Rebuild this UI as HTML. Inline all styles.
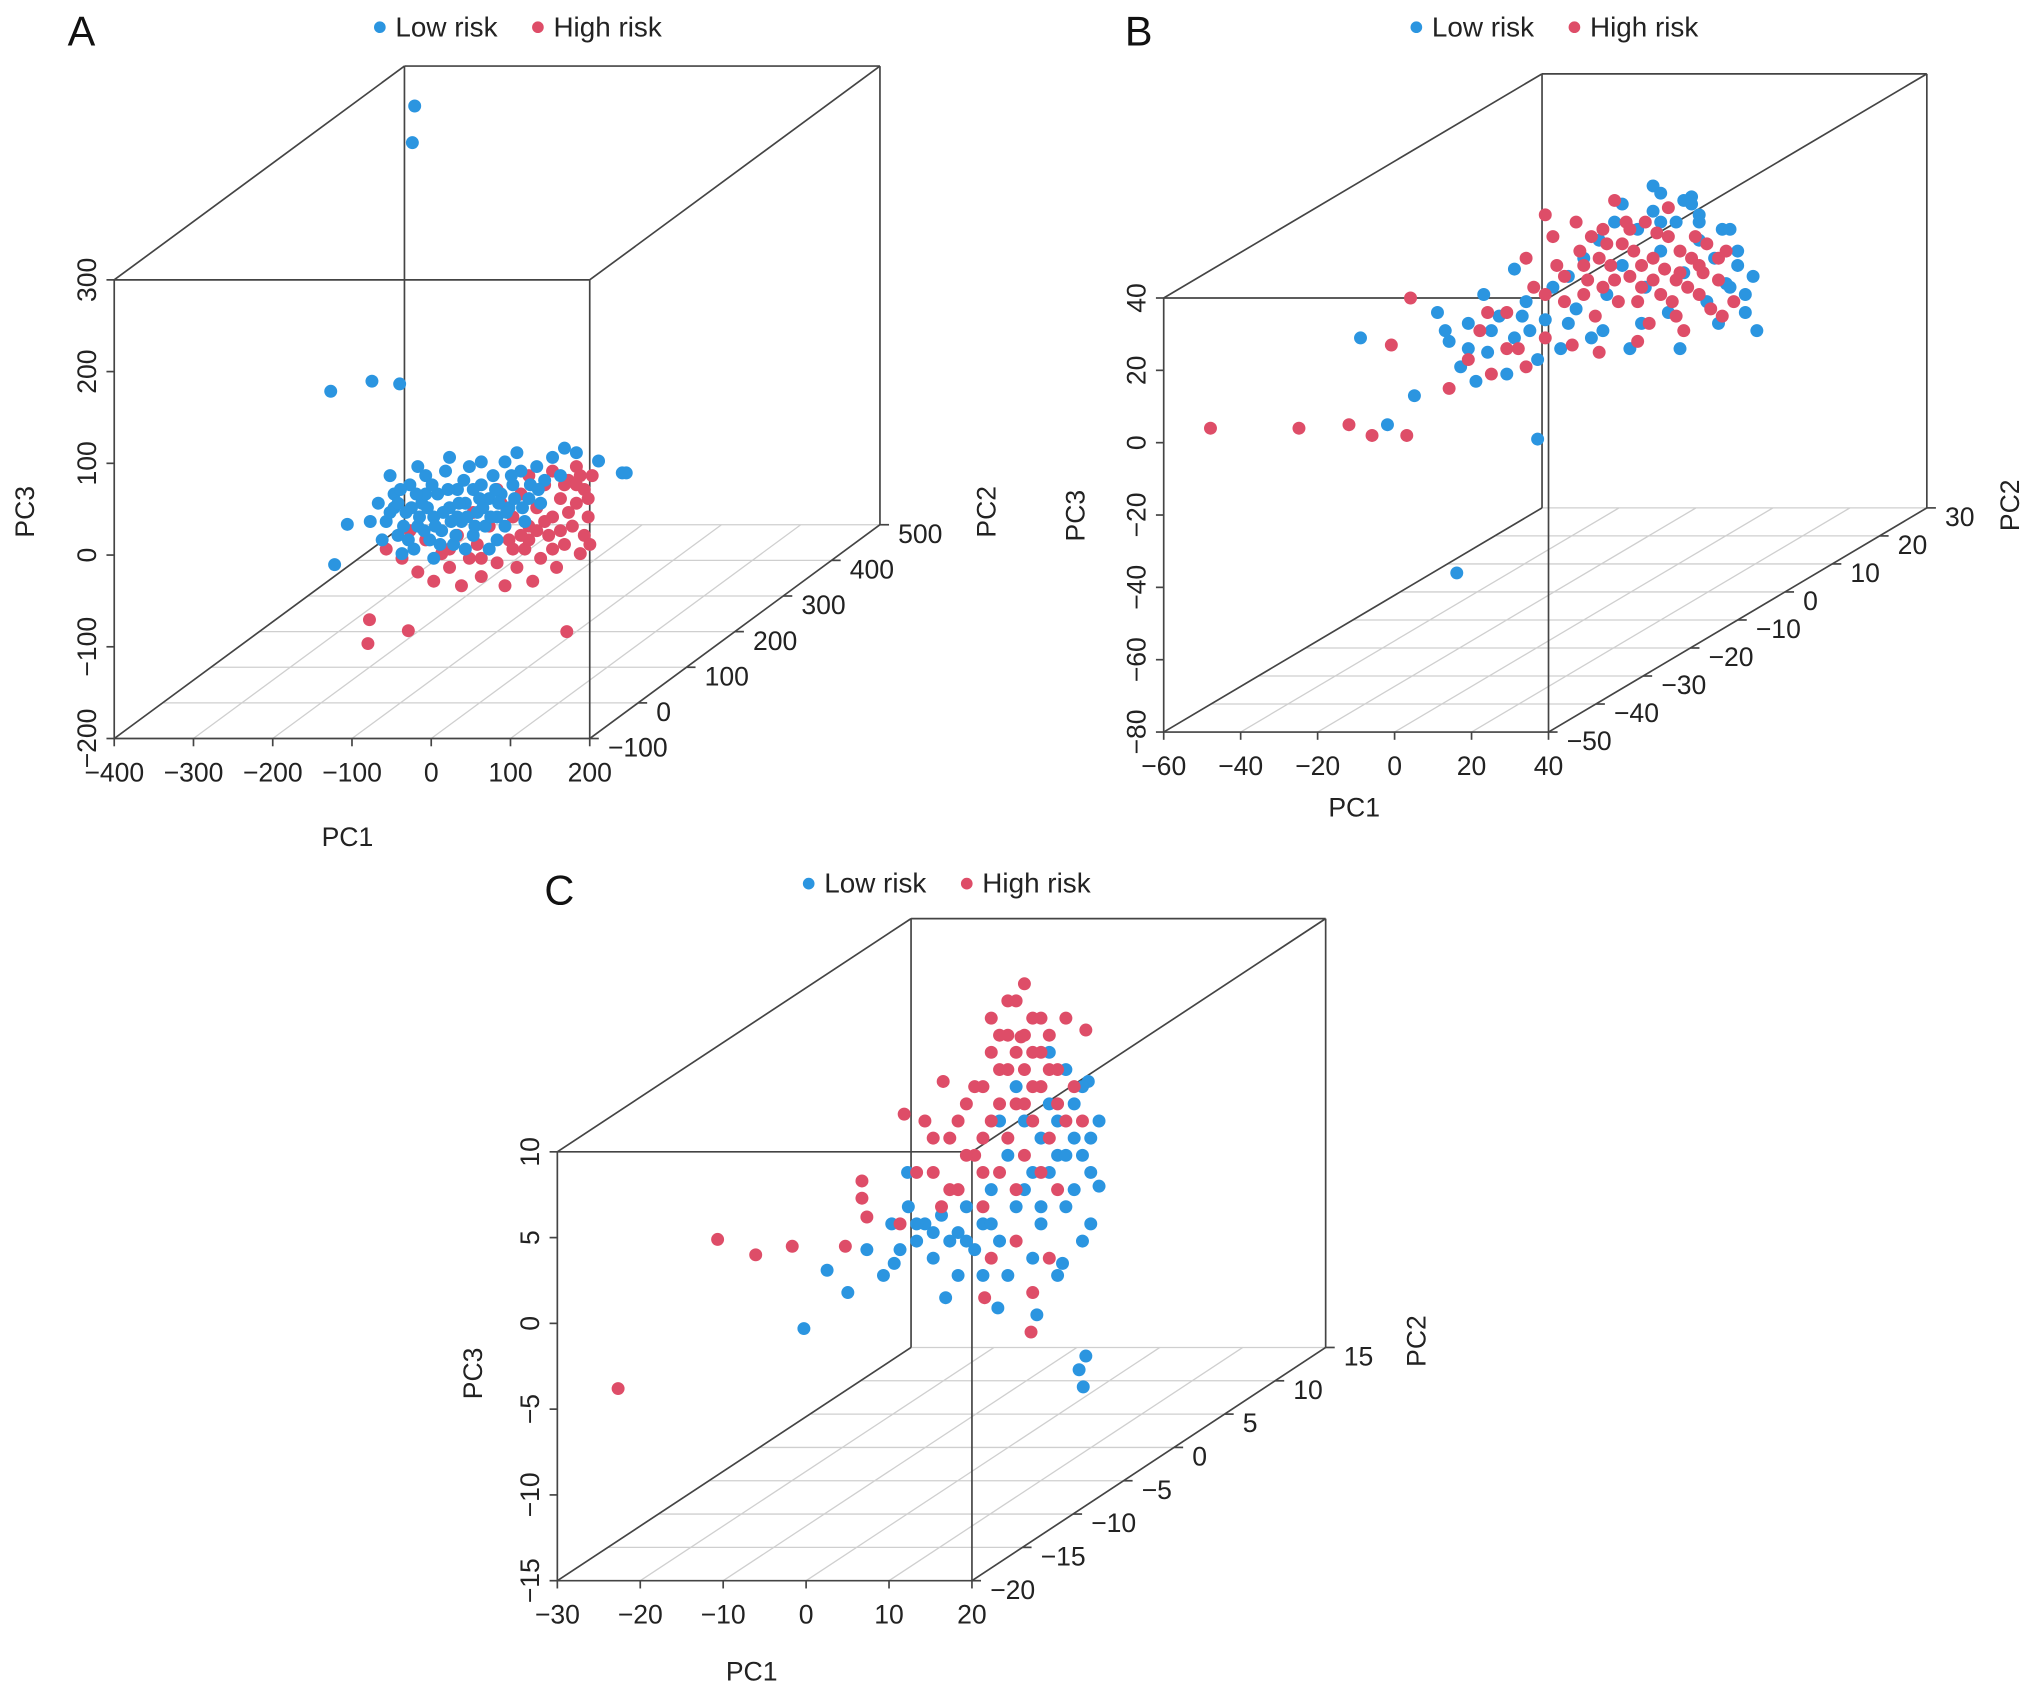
<!DOCTYPE html>
<html><head><meta charset="utf-8"><style>
html,body{margin:0;padding:0;background:#fff;}
svg{display:block;font-family:"Liberation Sans",Arial,sans-serif;}
</style></head><body>
<svg id="chart" width="2032" height="1696" viewBox="0 0 1568 1309" xmlns="http://www.w3.org/2000/svg"></svg>
<script>
// ---- Panel A data [PC1, PC3] (PC2 set to mid-depth) ----
const A_low = [[-204,373],[-207,333],[-310,62],[-258,73],[-223,70],[-305,-127],[-289,-83],
[-250,-60],[-240,-80],[-230,-50],[-225,-95],[-215,-70],[-210,-40],[-205,-110],[-200,-85],[-195,-60],[-190,-30],[-185,-100],[-180,-75],[-175,-50],[-170,-90],[-165,-25],[-160,-65],[-155,-105],[-150,-45],[-145,-80],[-140,-60],[-135,-20],[-130,-95],[-125,-70],[-120,-40],[-115,-85],[-110,-55],[-105,-30],[-100,-75],[-95,-50],[-90,-15],[-85,-65],[-80,-40],[-70,-25],[-60,-55],[-50,-20],[-40,-35],[-30,-10],[-20,-30],[-245,-100],[-235,-30],[-220,-115],[-200,-20],[-180,-120],[-160,-10],[-140,-110],[-120,-15],[-100,-100],[-75,-5],[-260,-80],[-230,-65],[-190,-50],[-150,-75],[-130,-45],[-110,-110],[-90,-85],[-65,-80],[-45,-60],[58,-27],[63,-27],[28,-14],[0,-5],[-15,0],
[-235,-70],[-225,-60],[-218,-85],[-208,-65],[-198,-75],[-188,-65],[-178,-85],[-168,-70],[-158,-80],[-148,-60],[-138,-75],[-128,-85],[-118,-65],[-108,-75],[-98,-60],[-88,-70],[-78,-55],[-68,-65],[-58,-40],[-48,-45],[-222,-45],[-202,-50],[-182,-40],[-162,-45],[-142,-35],[-122,-55],[-102,-45],[-82,-30],[-212,-100],[-192,-90],[-172,-105],[-152,-95]];
const A_high = [[-220,-120],[-200,-135],[-190,-100],[-180,-145],[-170,-115],[-160,-130],[-150,-95],[-145,-150],[-135,-120],[-125,-105],[-120,-140],[-110,-85],[-100,-125],[-95,-60],[-90,-150],[-85,-100],[-80,-75],[-75,-130],[-70,-50],[-65,-110],[-60,-85],[-55,-145],[-50,-65],[-45,-120],[-40,-40],[-35,-95],[-30,-75],[-25,-130],[-20,-55],[-15,-105],[-10,-35],[-5,-85],[0,-60],[5,-115],[10,-45],[15,-75],[20,-30],[-60,-30],[-30,-25],[-100,-45],[0,-20],[10,-95],[-130,-70],[-210,-90],[-240,-110],[-261,-187],[-263,-213],[-212,-199],[-12,-200],[17,-105],
[-60,-100],[-40,-80],[-20,-90],[0,-40],[-10,-70],[-50,-90],[-30,-110],[-80,-110],[-120,-120],[-160,-110],[15,-55],[5,-30],[-15,-40],[-70,-95]];
const A_pc2 = 200;
// ---- Panel B data ----
const B_low = [[-58,-2],[-51,-26],[-44,-18],[-33,-67],[-12,-30],[-18,17],[18,40],[28,37],[42,5],[45,0],[37,13],
[-38,5],[-35,-3],[-32,-10],[-30,2],[-28,-14],[-25,-6],[-22,4],[-20,-12],[-18,-2],[-15,8],[-12,-8],[-10,3],[-8,12],[-6,-5],[-4,15],[-2,6],[0,20],[2,-2],[4,25],[6,10],[8,30],[10,18],[12,-5],[14,28],[16,12],[18,33],[20,22],[22,5],[24,30],[26,16],[28,35],[30,25],[32,8],[34,20],[36,28],[38,12],[40,18],[42,10],[-26,10],[-14,0],[5,0],[15,2],[25,-5],[35,2],[10,35],[20,38],[30,32],
[-36,0],[-30,-5],[-24,0],[20,30],[30,30],[40,22],[44,15],[38,28],[26,36],[-16,4],[-4,2]];
const B_high = [[-97,-27],[-74,-27],[-61,-26],[-55,-29],[-46,-29],[-45,9],[-50,-4],[-35,-16],[-10,32],
[-30,-8],[-27,0],[-24,-12],[-20,5],[-17,-5],[-13,12],[-10,-2],[-7,18],[-5,8],[-3,-4],[-1,22],[1,14],[3,4],[5,28],[7,18],[9,8],[11,30],[13,22],[15,12],[17,2],[19,27],[21,17],[23,8],[25,22],[27,12],[29,26],[31,16],[33,6],[35,14],[37,22],[39,8],[0,10],[6,24],[12,15],[18,20],[24,14],[30,18],[-2,30],[8,36],[16,30],[22,34],[-15,20],[-8,26],[4,-6],[14,-3],[26,0],[36,4],
[-5,15],[0,18],[5,12],[10,24],[15,18],[20,10],[25,16],[30,10],[35,20],[2,26],[12,28],[22,26],[28,20],[-10,10],[8,14],[18,14],[32,24],[4,20],[14,8],[24,4],[-20,-5],[-25,5],[-15,-10]];
const B_pc2 = -10;
// ---- Panel C data ----
const C_low = [[-21.6,-7.1],[-18.8,-3.7],[-16.3,-5],[12.1,-10.5],[12.4,-8.7],[11.6,-9.5],[-4.5,-5.3],[1.8,-5.9],[6.5,-6.3],[9.6,-3.3],[14,1.2],[12.7,7.3],[-9.1,2],[-10.7,-3.3],
[-11,-1],[-10,-2.5],[-9,0],[-8,-2],[-7,-1],[-6,-3],[-5,-0.5],[-4,-2],[-3,-1.5],[-2,0],[-1,-2.5],[0,-1],[1,1],[2,-2],[3,3],[4,0],[5,5],[6,2],[7,-1],[8,6],[9,3],[10,0],[11,4],[12,7],[13,2],[14,5],[10,8],[8,9],[12,-2],[9,-4],[6,-3],[3,-4],[0,-4],[-3,-4],[7,4],[11,1],[13,-1],[4,7],[2,5],[-12,-4],[-14,-2.5],
[8,2],[10,3],[12,3],[11,6],[9,5],[13,4],[-6,-1.5],[-8,-1],[-2,-2],[1,-1],[5,1],[7,0]];
const C_high = [[-44,-10.6],[-32,-1.9],[-27.4,-2.8],[-23,-2.3],[-16.6,-2.3],[-14.6,1.5],[-14.6,0.5],[-14,-0.6],[-9.5,5.4],[-4.8,7.3],[4.6,9.9],[12.4,10.3],[5.8,-7.3],[0.2,-5.3],
[-6,2],[-4,4],[-3,1],[-2,6],[-1,3],[0,7],[0,0],[1,5],[1,9],[2,2],[2,8],[3,4],[3,10],[4,6],[4,1],[5,8],[5,3],[6,11],[6,5],[7,7],[7,2],[8,4],[8,10],[9,6],[9,1],[10,5],[10,11],[11,7],[3,12],[5,13],[4,-2],[6,-5],[8,-3],[-8,2],[-5,0],[-10,-1],[1,-3],[-2,3],[12,5],[-7,5],
[0,4],[2,6],[4,9],[6,7],[8,8],[1,11],[3,8],[5,10],[7,9],[9,8],[5,6],[-3,5],[-1,7],[2,10],[6,9],[4,12],[7,11],[0,2],[-4,1],[-6,4]];
const C_pc2 = -2.5;
// tick labels
const A_xticks=[-400,-300,-200,-100,0,100,200], A_yticks=[-100,0,100,200,300,400,500], A_zticks=[-200,-100,0,100,200,300];
const B_xticks=[-60,-40,-20,0,20,40], B_yticks=[-50,-40,-30,-20,-10,0,10,20,30], B_zticks=[-80,-60,-40,-20,0,20,40];
const C_xticks=[-30,-20,-10,0,10,20], C_yticks=[-20,-15,-10,-5,0,5,10,15], C_zticks=[-15,-10,-5,0,5,10];

const NS="http://www.w3.org/2000/svg";
const svg=document.getElementById('chart');
const BLUE="#2b95e0", RED="#de4d68";
function mk(tag,attrs,parent){const e=document.createElementNS(NS,tag);for(const k in attrs)e.setAttribute(k,attrs[k]);(parent||svg).appendChild(e);return e;}
function fmt(v){return v<0?"\u2212"+Math.abs(v):String(v);}

function panel(c){
  const g=mk('g',{});
  
  
  const xr=[c.xt[0],c.xt[c.xt.length-1]], yr=[c.yt[0],c.yt[c.yt.length-1]], zr=[c.zt[0],c.zt[c.zt.length-1]];
  function P(x,y,z){const fx=(x-xr[0])/(xr[1]-xr[0]),fy=(y-yr[0])/(yr[1]-yr[0]),fz=(z-zr[0])/(zr[1]-zr[0]);
    return [c.fl+fx*(c.fr-c.fl)+fy*c.dx, c.fb-fz*(c.fb-c.ft)+fy*c.dy];}
  function line(a,b,col,w,name){const l=mk('line',{x1:a[0],y1:a[1],x2:b[0],y2:b[1],stroke:col,'stroke-width':w},g);
    
    }
  c.yt.forEach(t=>line(P(xr[0],t,zr[0]),P(xr[1],t,zr[0]),'#cfcfcf',1,'floor-grid-line'));
  c.xt.forEach(t=>line(P(t,yr[0],zr[0]),P(t,yr[1],zr[0]),'#cfcfcf',1,'floor-grid-line'));
  const K='#444';
  const f00=P(xr[0],yr[0],zr[0]),f10=P(xr[1],yr[0],zr[0]),f01=P(xr[0],yr[0],zr[1]),f11=P(xr[1],yr[0],zr[1]);
  const b00=P(xr[0],yr[1],zr[0]),b10=P(xr[1],yr[1],zr[0]),b01=P(xr[0],yr[1],zr[1]),b11=P(xr[1],yr[1],zr[1]);
  [[f00,f10],[f10,f11],[f11,f01],[f01,f00],[b00,b01],[b01,b11],[b11,b10],[f00,b00],[f10,b10],[f01,b01],[f11,b11]].forEach(s=>line(s[0],s[1],K,1.3,'box-edge'));
  c.xt.forEach(t=>{const p=P(t,yr[0],zr[0]);line(p,[p[0],p[1]+6],K,1.3,'x-tick');
    const tx=mk('text',{x:p[0],y:p[1]+33,'text-anchor':'middle','font-size':20.5,fill:'#222'},g);tx.textContent=fmt(t);
    
    });
  c.zt.forEach(t=>{const p=P(xr[0],yr[0],t);line(p,[p[0]-6,p[1]],K,1.3,'z-tick');
    const tx=mk('text',{x:p[0]-14,y:p[1],'text-anchor':'middle','font-size':20.5,fill:'#222',transform:`rotate(-90 ${p[0]-14} ${p[1]})`},g);tx.textContent=fmt(t);
    
    });
  c.yt.forEach(t=>{const p=P(xr[1],t,zr[0]);line(p,[p[0]+7,p[1]],K,1.3,'y-tick');
    const tx=mk('text',{x:p[0]+14,y:p[1]+14,'text-anchor':'start','font-size':20.5,fill:'#222'},g);tx.textContent=fmt(t);
    
    });
  const t1=mk('text',{x:c.pc1[0],y:c.pc1[1],'text-anchor':'middle','font-size':20.5,fill:'#222'},g);t1.textContent='PC1';
  
  
  const t3=mk('text',{x:c.pc3[0],y:c.pc3[1],'text-anchor':'middle','font-size':20.5,fill:'#222',transform:`rotate(-90 ${c.pc3[0]} ${c.pc3[1]})`},g);t3.textContent='PC3';
  
  
  const t2=mk('text',{x:c.pc2[0],y:c.pc2[1],'text-anchor':'middle','font-size':20.5,fill:'#222',transform:`rotate(-90 ${c.pc2[0]} ${c.pc2[1]})`},g);t2.textContent='PC2';
  
  
  const lt=mk('text',{x:c.letter[0],y:c.letter[1],'font-size':32,fill:'#111'},g);lt.textContent=c.id;
  
  
  const lg=mk('g',{},g);
  
  
  const L=c.legend;
  mk('circle',{cx:L[0],cy:L[1],r:4.5,fill:BLUE},lg);
  const l1=mk('text',{x:L[0]+12,y:L[1]+7,'font-size':21.5,fill:'#222'},lg);l1.textContent='Low risk';
  
  
  mk('circle',{cx:L[0]+122,cy:L[1],r:4.5,fill:RED},lg);
  const l2=mk('text',{x:L[0]+134,y:L[1]+7,'font-size':21.5,fill:'#222'},lg);l2.textContent='High risk';
  
  
  function draw(arr,col,name){arr.forEach(d=>{const p=P(d[0],c.pc2v,d[1]);
    const e=mk('circle',{cx:p[0].toFixed(1),cy:p[1].toFixed(1),r:5,fill:col},g);
    
    });}
  if(c.blueTop){draw(c.high,RED,'point-high-risk');draw(c.low,BLUE,'point-low-risk');}
  else{draw(c.low,BLUE,'point-low-risk');draw(c.high,RED,'point-high-risk');}
}
panel({id:'A',fl:88,fr:455,fb:570,ft:216,dx:224,dy:-165,xt:A_xticks,yt:A_yticks,zt:A_zticks,pc2v:A_pc2,low:A_low,high:A_high,blueTop:true,
  pc1:[268,653],pc3:[26,395],pc2:[768,395],letter:[52,35],legend:[293,21]});
panel({id:'B',fl:898,fr:1195,fb:565,ft:230,dx:292,dy:-173,xt:B_xticks,yt:B_yticks,zt:B_zticks,pc2v:B_pc2,low:B_low,high:B_high,blueTop:false,
  pc1:[1045,630],pc3:[837,398],pc2:[1558,390],letter:[868,35],legend:[1093,21]});
panel({id:'C',fl:430,fr:750,fb:1220,ft:889,dx:273,dy:-180,xt:C_xticks,yt:C_yticks,zt:C_zticks,pc2v:C_pc2,low:C_low,high:C_high,blueTop:false,
  pc1:[580,1297],pc3:[372,1060],pc2:[1100,1035],letter:[420,698],legend:[624,682]});
</script>
</body></html>
